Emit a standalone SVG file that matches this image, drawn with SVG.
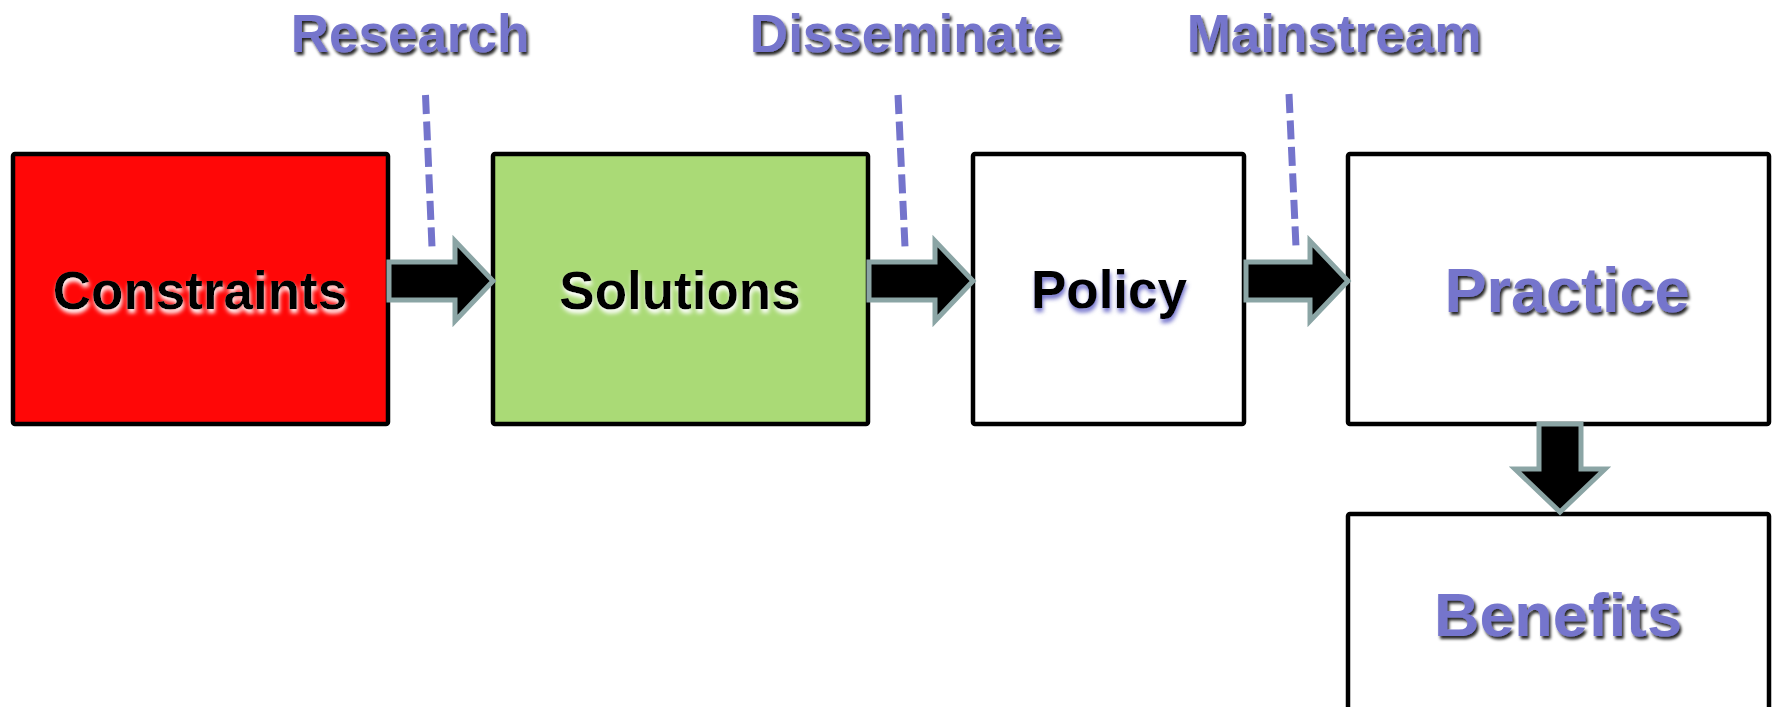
<svg xmlns="http://www.w3.org/2000/svg" width="1779" height="707" viewBox="0 0 1779 707">
<defs>
<filter id="shDark" x="-10%" y="-30%" width="120%" height="160%">
<feDropShadow dx="2" dy="3" stdDeviation="1.5" flood-color="#000" flood-opacity="0.85"/>
</filter>
<filter id="shWhite" x="-10%" y="-30%" width="120%" height="160%">
<feDropShadow dx="1" dy="4" stdDeviation="2" flood-color="#fff" flood-opacity="1"/>
</filter>
<filter id="shPurple" x="-10%" y="-30%" width="120%" height="160%">
<feDropShadow dx="1" dy="4" stdDeviation="2" flood-color="#7474cc" flood-opacity="1"/>
</filter>
</defs>
<style>
.box{stroke:#000;stroke-width:4.5}
.t{font-family:"Liberation Sans",Arial,sans-serif;font-weight:bold;text-anchor:middle}
.lbl{font-size:53px;fill:#7474cc;filter:url(#shDark)}
.nb{font-size:53px;fill:#000}
.np{font-size:63px;fill:#7474cc;filter:url(#shDark)}
.arr{fill:#000;stroke:#8ba5a5;stroke-width:5;stroke-linejoin:miter}
.dash{stroke:#7474cc;stroke-width:7;stroke-dasharray:19 7.5;fill:none}
</style>
<rect width="1779" height="707" fill="#fff"/>
<g id="labels">
<text class="t lbl" x="410" y="52">Research</text>
<text class="t lbl" x="906" y="52">Disseminate</text>
<text class="t lbl" x="1334" y="52">Mainstream</text>
</g>
<g id="constraints">
<rect class="box" x="13" y="154" width="375" height="270" rx="2" fill="#ff0707"/>
<text class="t nb" x="200" y="309" filter="url(#shWhite)">Constraints</text>
</g>
<g id="solutions">
<rect class="box" x="493" y="154" width="375" height="270" rx="2" fill="#aada76"/>
<text class="t nb" x="680" y="309" filter="url(#shWhite)">Solutions</text>
</g>
<g id="policy">
<rect class="box" x="973" y="154" width="271" height="270" rx="2" fill="#fff"/>
<text class="t nb" x="1109" y="308" font-size="52" filter="url(#shPurple)">Policy</text>
</g>
<g id="practice">
<rect class="box" x="1348" y="154" width="421" height="270" rx="2" fill="#fff"/>
<text class="t np" x="1567" y="312">Practice</text>
</g>
<g id="benefits">
<rect class="box" x="1348" y="514" width="421" height="220" rx="2" fill="#fff"/>
<text class="t np" x="1558" y="636" style="font-size:62px" textLength="248" lengthAdjust="spacingAndGlyphs">Benefits</text>
</g>
<g id="connectors">
<line class="dash" x1="425.5" y1="95" x2="432" y2="247"/>
<line class="dash" x1="898" y1="95" x2="905" y2="247"/>
<line class="dash" x1="1289" y1="94" x2="1296" y2="247"/>
<polygon class="arr" points="389,262 455,262 455,241 493,281 455,321 455,300 389,300"/>
<polygon class="arr" points="869,262 935,262 935,241 973,281 935,321 935,300 869,300"/>
<polygon class="arr" points="1246,262 1310,262 1310,241 1348,281 1310,321 1310,300 1246,300"/>
<polygon class="arr" points="1539,424 1581,424 1581,469 1605,469 1560,512 1515,469 1539,469"/>
</g>
</svg>
